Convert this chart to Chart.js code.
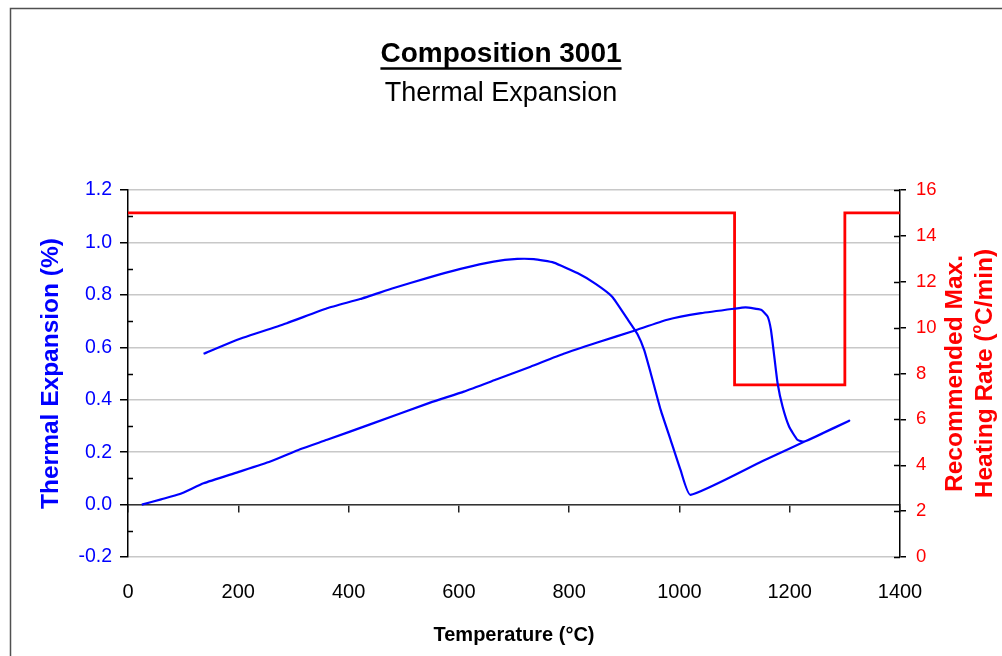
<!DOCTYPE html>
<html>
<head>
<meta charset="utf-8">
<script src="https://cdn.jsdelivr.net/npm/chart.js@4.4.0/dist/chart.umd.min.js"></script>
<style>
  html, body { margin: 0; padding: 0; background: #fff; }
  #quadro { width: 1002px; height: 656px; position: relative; }
</style>
</head>
<body>
<div id="quadro"><canvas id="grafico"></canvas></div>
<script>
// Dados
const tempExpansao = [25, 60, 94, 137, 197, 258, 312, 361, 439, 548, 609, 669, 730, 790, 851, 918, 978, 1039, 1099, 1120, 1148, 1160, 1166, 1172, 1178, 1187, 1199, 1214, 1226, 1260, 1308,
  1250, 1150, 1020, 1002, 984, 966, 948, 936, 924, 905, 878, 848, 815, 772, 736, 706, 663, 603, 542, 482, 421, 361, 288, 197, 137];
const expansao = [0.0, 0.02, 0.04, 0.081, 0.122, 0.164, 0.211, 0.247, 0.306, 0.389, 0.431, 0.478, 0.526, 0.575, 0.618, 0.663, 0.705, 0.730, 0.747, 0.752, 0.743, 0.717, 0.666, 0.565, 0.463, 0.374, 0.297, 0.247, 0.240, 0.272, 0.320,
  0.263, 0.165, 0.037, 0.132, 0.247, 0.361, 0.501, 0.590, 0.650, 0.710, 0.793, 0.842, 0.883, 0.923, 0.936, 0.937, 0.927, 0.899, 0.864, 0.826, 0.784, 0.749, 0.692, 0.628, 0.575];

const tempTaxa = [0, 1100, 1100, 1300, 1300, 1400];
const taxa = [15, 15, 7.5, 7.5, 15, 15];

const AZUL = '#0000ff';
const VERMELHO = '#ff0000';
const FONTE = '"Liberation Sans", Arial, sans-serif';

const pontos = (xs, ys) => xs.map((x, i) => ({ x: x, y: ys[i] }));

// marcas extras: moldura, sublinhado, ticks menores, titulo do eixo direito
const extras = {
  id: 'extras',
  beforeDraw(chart) {
    const ctx = chart.ctx;
    ctx.save();
    ctx.strokeStyle = '#505050';
    ctx.lineWidth = 1.5;
    ctx.beginPath();
    ctx.moveTo(10.5, 700);
    ctx.lineTo(10.5, 8.5);
    ctx.lineTo(1100, 8.5);
    ctx.stroke();
    ctx.restore();
  },
  afterDraw(chart) {
    const ctx = chart.ctx;
    const yEsq = chart.scales.y;
    const yDir = chart.scales.y2;
    ctx.save();
    ctx.strokeStyle = '#000';
    ctx.lineWidth = 1.5;
    ctx.beginPath();
    for (let v = -0.1; v < 1.2; v += 0.2) {
      const py = Math.round(yEsq.getPixelForValue(v)) + 0.5;
      ctx.moveTo(yEsq.right, py);
      ctx.lineTo(yEsq.right + 5, py);
    }
    yDir.ticks.forEach(t => {
      const py = Math.round(yDir.getPixelForValue(t.value)) + 0.5;
      ctx.moveTo(yDir.left, py);
      ctx.lineTo(yDir.left - 6, py);
    });
    ctx.stroke();

    // sublinhado do titulo
    const tb = chart.titleBlock;
    ctx.font = 'bold 28px ' + FONTE;
    const larg = ctx.measureText('Composition 3001').width;
    const cx = (tb.left + tb.right) / 2;
    ctx.lineWidth = 2.5;
    ctx.beginPath();
    ctx.moveTo(cx - larg / 2, 68.5);
    ctx.lineTo(cx + larg / 2, 68.5);
    ctx.stroke();

    // titulo do eixo direito
    const cy = (chart.chartArea.top + chart.chartArea.bottom) / 2;
    ctx.fillStyle = VERMELHO;
    ctx.textBaseline = 'middle';
    ctx.translate(955, cy);
    ctx.rotate(-Math.PI / 2);
    ctx.font = 'bold 24.5px ' + FONTE;
    ctx.textAlign = 'center';
    ctx.fillText('Recommended Max.', 0, 0);
    ctx.restore();

    ctx.save();
    ctx.fillStyle = VERMELHO;
    ctx.textBaseline = 'middle';
    ctx.translate(985, cy);
    ctx.rotate(-Math.PI / 2);
    const p1 = 'Heating Rate (', p2 = 'o', p3 = 'C/min)';
    ctx.font = 'bold 24.5px ' + FONTE;
    const w1 = ctx.measureText(p1).width, w3 = ctx.measureText(p3).width;
    ctx.font = 'bold 14px ' + FONTE;
    const w2 = ctx.measureText(p2).width;
    let x = -(w1 + w2 + w3) / 2;
    ctx.textAlign = 'left';
    ctx.font = 'bold 24.5px ' + FONTE;
    ctx.fillText(p1, x, 0);
    x += w1;
    ctx.font = 'bold 14px ' + FONTE;
    ctx.fillText(p2, x, -8);
    x += w2;
    ctx.font = 'bold 24.5px ' + FONTE;
    ctx.fillText(p3, x, 0);
    ctx.restore();
  }
};

new Chart(document.getElementById('grafico'), {
  type: 'scatter',
  data: {
    datasets: [
      {
        label: 'Thermal Expansion',
        data: pontos(tempExpansao, expansao),
        showLine: true,
        borderColor: AZUL,
        borderWidth: 2.2,
        pointRadius: 0,
        tension: 0.15,
        yAxisID: 'y'
      },
      {
        label: 'Heating Rate',
        data: pontos(tempTaxa, taxa),
        showLine: true,
        borderColor: VERMELHO,
        borderWidth: 2.8,
        pointRadius: 0,
        tension: 0,
        yAxisID: 'y2'
      }
    ]
  },
  options: {
    responsive: true,
    maintainAspectRatio: false,
    animation: false,
    devicePixelRatio: 1,
    layout: { padding: 0 },
    plugins: {
      legend: { display: false },
      tooltip: { enabled: false },
      title: {
        display: true,
        text: 'Composition 3001',
        color: '#000',
        font: { family: FONTE, size: 28, weight: 'bold' },
        padding: { top: 37, bottom: 7 }
      },
      subtitle: {
        display: true,
        text: 'Thermal Expansion',
        color: '#000',
        font: { family: FONTE, size: 27, weight: 'normal' },
        padding: { top: 0, bottom: 80 }
      }
    },
    scales: {
      x: {
        type: 'linear',
        min: 0,
        max: 1400,
        ticks: {
          stepSize: 200,
          color: '#000',
          font: { family: FONTE, size: 20 },
          padding: 15,
          maxRotation: 0,
          callback: v => String(v)
        },
        grid: { display: false },
        border: { display: false },
        title: {
          display: true,
          text: 'Temperature (°C)',
          color: '#000',
          font: { family: FONTE, size: 20, weight: 'bold' },
          padding: { top: 0, bottom: 9 }
        },
        afterFit: s => { s.height = 99; }
      },
      x0: {
        type: 'linear',
        min: 0,
        max: 1400,
        position: { y: 0 },
        ticks: { stepSize: 200, display: false },
        grid: { drawOnChartArea: false, tickLength: 7, tickColor: '#222', lineWidth: 1.5 },
        border: { color: '#333', width: 1.5 }
      },
      y: {
        position: 'left',
        min: -0.2,
        max: 1.2,
        ticks: {
          stepSize: 0.2,
          color: AZUL,
          font: { family: FONTE, size: 19.5 },
          padding: 8,
          callback: v => (Math.abs(v) < 1e-9 ? 0 : v).toFixed(1)
        },
        grid: { color: '#c8c8c8', lineWidth: 1.5, tickLength: 8, tickColor: '#000' },
        border: { color: '#000', width: 1.5 },
        title: {
          display: true,
          text: 'Thermal Expansion (%)',
          color: AZUL,
          font: { family: FONTE, size: 24.5, weight: 'bold' },
          padding: { top: 37, bottom: 0 }
        },
        afterFit: s => { s.width = 128; }
      },
      y2: {
        position: 'right',
        min: 0,
        max: 16,
        ticks: { stepSize: 2, color: VERMELHO, font: { family: FONTE, size: 18.5 }, padding: 10 },
        grid: { drawOnChartArea: false, tickLength: 6, tickColor: '#000', lineWidth: 1.5 },
        border: { color: '#000', width: 1.5 },
        afterFit: s => { s.width = 102; }
      }
    }
  },
  plugins: [extras]
});
</script>
</body>
</html>
